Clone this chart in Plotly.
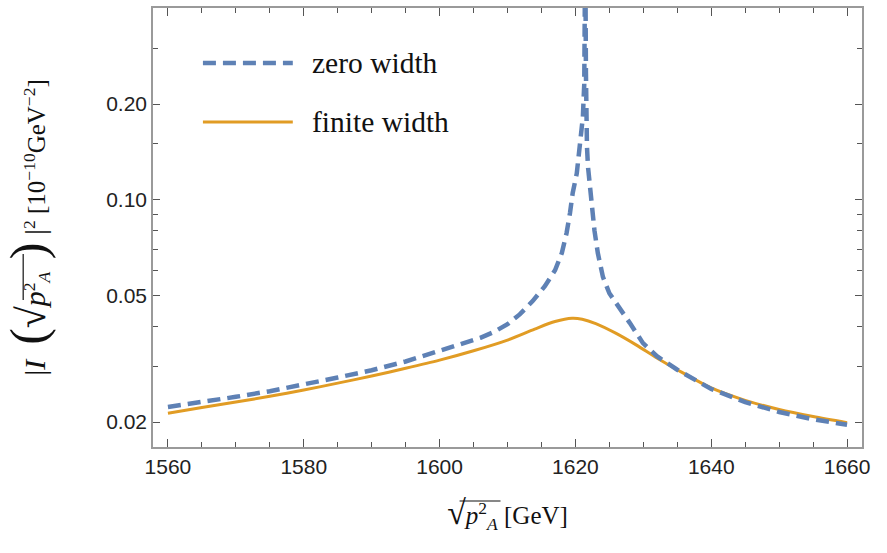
import plotly.graph_objects as go

# ---- data ----
zero_x = [1560, 1565, 1570, 1575, 1580, 1585, 1590, 1595, 1600, 1603, 1606, 1608,
          1610, 1611.8, 1613.7, 1615.5, 1617.0, 1618.0, 1618.7, 1619.2, 1619.6, 1620.2,
          1620.5, 1620.9, 1621.1, 1621.2, 1621.3, 1621.38, 1621.45, 1621.5, 1621.55,
          1621.6, 1621.7, 1621.85, 1622.1, 1622.35, 1622.8, 1623.3, 1624.05, 1625.0,
          1626.5, 1628.0, 1629.95, 1632, 1635, 1640, 1645, 1650, 1655, 1660]
zero_y = [0.0223, 0.0231, 0.0240, 0.0250, 0.0262, 0.0276, 0.0291, 0.0310, 0.0335,
          0.0350, 0.0368, 0.0384, 0.0406, 0.0436, 0.0480, 0.0535, 0.0600, 0.0680,
          0.0786, 0.0908, 0.105, 0.121, 0.140, 0.162, 0.182, 0.206, 0.230, 0.40, 0.60,
          0.40, 0.25, 0.162, 0.147, 0.127, 0.110, 0.095, 0.0802, 0.0680, 0.0572, 0.0508,
          0.0453, 0.0410, 0.0354, 0.0322, 0.0292, 0.0254, 0.0231, 0.0215, 0.0204,
          0.0196]

finite_x = [1560, 1565, 1570, 1575, 1580, 1585, 1590, 1595, 1600, 1605, 1610, 1614,
            1617, 1619.5, 1621, 1623, 1626, 1629, 1632, 1635, 1640, 1645, 1650, 1655, 1660]
finite_y = [0.0213, 0.0222, 0.0231, 0.0241, 0.0252, 0.0265, 0.0279, 0.0295, 0.0313,
            0.0335, 0.0362, 0.0392, 0.0414, 0.0424, 0.0421, 0.0408, 0.0380, 0.0349,
            0.0318, 0.0292, 0.0256, 0.0234, 0.0219, 0.0208, 0.0199]

x_ticks = [1560, 1580, 1600, 1620, 1640, 1660]
y_ticks = [0.02, 0.05, 0.10, 0.20]
y_tick_text = ["0.02", "0.05", "0.10", "0.20"]
y_minor = [0.03, 0.04, 0.06, 0.07, 0.08, 0.09, 0.15, 0.3]

series_names = ["zero width", "finite width"]
BLUE = "#5E81B5"
ORANGE = "#E19C24"

fig = go.Figure()
fig.add_trace(go.Scatter(x=finite_x, y=finite_y, mode="lines", name=series_names[1],
                         line=dict(color=ORANGE, width=3, shape="spline", smoothing=0.8),
                         showlegend=False))
fig.add_trace(go.Scatter(x=zero_x, y=zero_y, mode="lines", name=series_names[0],
                         line=dict(color=BLUE, width=4.5, dash="13px,7px"),
                         showlegend=False))

frame = "#9a9a9a"
tickfont = dict(family="Liberation Sans, Arial", size=21, color="#222222")
serif = "Liberation Serif, Times New Roman, serif"

x_title = ("<span style='font-size:34px'>√</span><i>p</i><sup>2</sup><sub><i>A</i></sub>"
           " [GeV]")
y_title = ("<span style='font-size:30px'>|<i>I</i>  </span><span style='font-size:50px'>(</span>"
           "<span style='font-size:40px'>√</span><span style='font-size:30px'><i>p</i></span>"
           "<sup>2</sup><sub><i>A</i></sub>"
           "<span style='font-size:50px'> )</span><span style='font-size:30px'> |</span>"
           "<sup>2</sup> [10<sup>−10</sup>GeV<sup>−2</sup>]")

fig.update_xaxes(range=[1557.8, 1662.2], tickvals=x_ticks, ticks="inside", ticklen=8,
                 tickcolor="#555555", tickwidth=1, showline=True, linecolor=frame,
                 linewidth=1.5, mirror="allticks", showgrid=False, zeroline=False,
                 tickfont=tickfont, automargin=False,
                 minor=dict(dtick=5, tick0=1560, ticks="inside", ticklen=5,
                            tickcolor="#555555", tickwidth=1, showgrid=False),
                 title=dict(text=x_title, font=dict(family=serif, size=25, color="#111111"),
                            standoff=30))
fig.update_yaxes(type="log", range=[-1.7776, -0.397], tickvals=y_ticks,
                 ticktext=y_tick_text, ticks="inside", ticklen=7, tickcolor="#555555",
                 tickwidth=1, showline=True, linecolor=frame, linewidth=1.5,
                 mirror="allticks", showgrid=False, zeroline=False, tickfont=tickfont,
                 automargin=False,
                 minor=dict(tickvals=y_minor, ticks="inside", ticklen=5,
                            tickcolor="#555555", tickwidth=1, showgrid=False),
                 title=dict(text=y_title, font=dict(family=serif, size=25, color="#111111"),
                            standoff=54))

# legend drawn inside the plot, top-left
shapes, annotations = [], []
leg = [(series_names[0], BLUE, "13px,7px", 4.5, 63),
       (series_names[1], ORANGE, "solid", 3, 122)]
for name, col, dash, w, ypix in leg:
    yp = (447 - ypix) / 439
    shapes.append(dict(type="line", xref="paper", yref="paper",
                       x0=(203 - 153) / 710, x1=(293 - 153) / 710, y0=yp, y1=yp,
                       line=dict(color=col, width=w, dash=dash)))
    annotations.append(dict(xref="paper", yref="paper", x=(310 - 153) / 710, y=yp,
                            xanchor="left", yanchor="middle", showarrow=False,
                            text=name, font=dict(family=serif, size=29.5, color="#111111")))

# vinculum (overbar) of the square roots in the axis titles
shapes.append(dict(type="line", xref="paper", yref="paper",
                   x0=(460 - 153) / 710, x1=(501 - 153) / 710,
                   y0=(447 - 501) / 439, y1=(447 - 501) / 439,
                   line=dict(color="#111111", width=1.2)))
shapes.append(dict(type="line", xref="paper", yref="paper",
                   x0=(23 - 153) / 710, x1=(23 - 153) / 710,
                   y0=(447 - 300) / 439, y1=(447 - 254) / 439,
                   line=dict(color="#111111", width=1.2)))

fig.update_layout(width=887, height=553, margin=dict(l=153, r=25, t=8, b=106),
                  plot_bgcolor="white", paper_bgcolor="white",
                  shapes=shapes, annotations=annotations)

fig.write_html("out.html", config={"displayModeBar": False},
               post_script="document.body.style.margin='0';")
